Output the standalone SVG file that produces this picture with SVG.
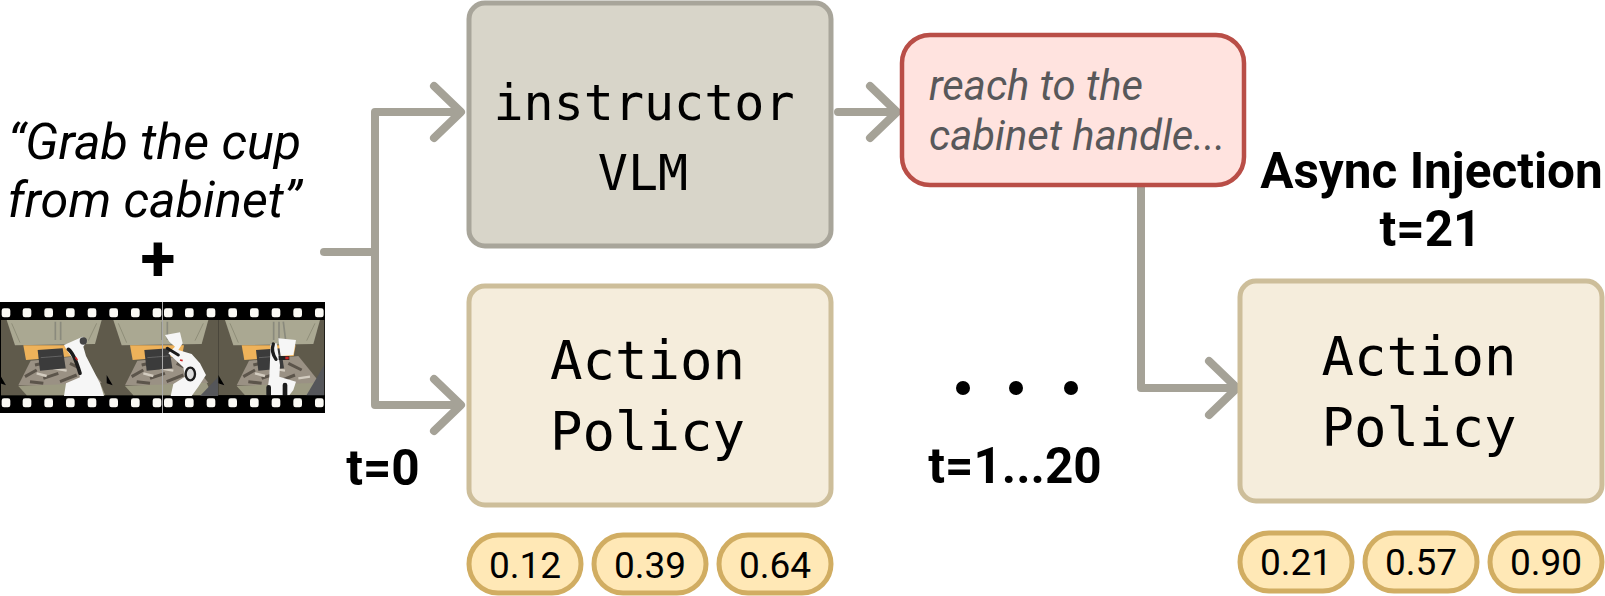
<svg xmlns="http://www.w3.org/2000/svg" width="1605" height="596" viewBox="0 0 1605 596">
<style>
.mono{font-family:"DejaVu Sans Mono","Liberation Mono",monospace;font-size:54px;fill:#000;text-anchor:middle}
.mono2{font-size:50px}
.lab{font-family:Roboto,"Liberation Sans",sans-serif;font-weight:700;font-size:49.5px;fill:#000;text-anchor:middle}
.plus{font-size:64px}
.quote{font-family:Roboto,"Liberation Sans",sans-serif;font-style:italic;font-size:50.300px;fill:#000;text-anchor:middle}
.say{font-family:Roboto,"Liberation Sans",sans-serif;font-style:italic;font-size:41.800px;fill:#58585a}
.pill{fill:#ffe8b6;stroke:#d1ad62;stroke-width:5}
.pt{font-family:Roboto,"Liberation Sans",sans-serif;font-size:37px;fill:#000;text-anchor:middle}
.con{fill:none;stroke:#a5a297;stroke-width:8;stroke-linecap:round;stroke-linejoin:round}
.hole{fill:#fbfaf5}
.bot{fill:#f6f6f6}
.blk{fill:none;stroke:#1c1c1c;stroke-linecap:round}
</style>
<defs>
<filter id="soft" x="-5%" y="-5%" width="110%" height="110%"><feGaussianBlur stdDeviation="1.500"/></filter>
<g id="holes"><rect x="5" y="0" width="26" height="27" rx="7" class="hole"/><rect x="68" y="0" width="26" height="27" rx="7" class="hole"/><rect x="133" y="0" width="26" height="27" rx="7" class="hole"/><rect x="198" y="0" width="26" height="27" rx="7" class="hole"/><rect x="263" y="0" width="26" height="27" rx="7" class="hole"/><rect x="328" y="0" width="26" height="27" rx="7" class="hole"/><rect x="393" y="0" width="26" height="27" rx="7" class="hole"/><rect x="458" y="0" width="26" height="27" rx="7" class="hole"/></g>
<g id="scene">
<rect x="-2" y="0" width="345" height="226" fill="#5f5a4c"/>
<path d="M20 0H305L285 72L45 76Z" fill="#aaa892"/>
<path d="M166 5V60M182 5V60" stroke="#8a8a7d" stroke-width="5"/>
<path d="M35 10L60 68M290 10L265 62" stroke="#8f8e78" stroke-width="3" fill="none"/>
<path d="M70 76H232L226 108L78 120Z" fill="#eeb25a"/>
<path d="M55 196L92 122L240 108L305 188L205 200Z" fill="#9a9184"/>
<path d="M75 170L110 150M130 175L175 160M210 130L250 150M90 185L130 190M180 185L230 165M105 135L135 128" stroke="#5c544b" stroke-width="9" fill="none"/>
<path d="M110 160L140 168M160 145L200 152M240 175L275 170" stroke="#d3ccc0" stroke-width="7" fill="none"/>
<path d="M113 90L188 85L197 145L120 152Z" fill="#3a3a3a"/>
<path d="M122 113L186 108" stroke="#777" stroke-width="2"/>
<path d="M55 198L300 188L316 226H80Z" fill="#9c9a82"/>
<path d="M0 165L18 196L0 190Z" fill="#000"/>
</g>
<clipPath id="f1"><rect x="3" y="120" width="315" height="228"/></clipPath>
<clipPath id="f2"><rect x="318" y="120" width="337" height="228"/></clipPath>
<clipPath id="f3"><rect x="655" y="120" width="318" height="226"/></clipPath>
</defs>

<g id="film">
<rect x="0" y="302" width="325" height="111" fill="#000"/>
<g transform="translate(0 280) scale(.33333)">
<g clip-path="url(#f1)">
<g filter="url(#soft)">
<use href="#scene" y="120"/>
<path class="bot" d="M192 195L248 170L262 182L250 200L258 228L300 310L312 348H192L198 310L240 292L228 250L200 210Z"/>
<circle cx="250" cy="183" r="11" fill="#444"/>
<path class="blk" stroke-width="11" d="M205 208Q222 220 240 280"/>
<path d="M226 232L232 240" stroke="#c22" stroke-width="5"/>
</g>
</g>
<g clip-path="url(#f2)">
<g filter="url(#soft)">
<use href="#scene" x="320" y="120"/>
<path d="M600 348L655 290V348Z" fill="#54565a"/>
<path class="bot" d="M495 165L540 157L548 190L535 210L575 222L600 250L618 285L595 320L575 348H512L520 312L555 290L550 262L505 220L525 200L508 185Z"/>
<path class="blk" stroke-width="9" d="M502 205L535 225"/>
<ellipse cx="571" cy="282" rx="14" ry="19" fill="#ddd" stroke="#1c1c1c" stroke-width="7"/>
<path d="M540 240L548 242" stroke="#c22" stroke-width="5"/>
</g>
</g>
<g clip-path="url(#f3)">
<g filter="url(#soft)">
<use href="#scene" x="655" y="120"/>
<path d="M918 348L973 255V348Z" fill="#54565a"/>
<path d="M850 125L858 190" stroke="#8a8a7d" stroke-width="5"/>
<path class="bot" d="M835 175L888 180L880 225L842 228L838 200ZM812 192L830 190L840 255L838 290L888 305L880 330L868 346H800L808 290L810 240Z"/>
<path class="blk" stroke-width="10" d="M820 192Q812 215 828 238"/>
<rect x="836" y="228" width="32" height="12" fill="#222"/>
<rect x="856" y="230" width="10" height="8" fill="#c22"/>
<path class="blk" stroke-width="14" d="M806 322V345M855 315V345"/>
</g>
</g>
</g>
<g transform="translate(0 280) scale(.33333)">
<g transform="translate(0 85)"><use href="#holes"/></g>
<g transform="translate(487 85)"><use href="#holes"/></g>
<g transform="translate(0 355)"><use href="#holes"/></g>
<g transform="translate(487 355)"><use href="#holes"/></g>
</g>
<path d="M162.500 302V413" stroke="#aaa" stroke-width="1"/>
</g>

<g id="connectors">
<path class="con" d="M324 252H375M375 112V405M375 112H460M375 405H460"/>
<path class="con" d="M434 86L461 112L434 138M434 379L461 405L434 431"/>
<path class="con" d="M838 112H897M870 86L897 112L870 138"/>
<path class="con" d="M1141 187V388H1236M1209 361L1237 388L1209 415"/>
</g>

<g id="instructor">
<rect x="469" y="3" width="362" height="243" rx="16" fill="#d8d5c9" stroke="#a8a59a" stroke-width="5"/>
<text class="mono mono2" x="644" y="120">instructor</text>
<text class="mono mono2" x="643" y="189.500">VLM</text>
</g>
<g id="policy1">
<rect x="469" y="286" width="362" height="219" rx="16" fill="#f5eddc" stroke="#cdbe9a" stroke-width="5"/>
<text class="mono" x="647.500" y="379">Action</text>
<text class="mono" x="647.500" y="450">Policy</text>
</g>
<g id="thought">
<rect x="902" y="35" width="342" height="150" rx="28" fill="#ffe3df" stroke="#b94e47" stroke-width="4.500"/>
<text class="say" x="929" y="99.500">reach to the</text>
<text class="say" x="929" y="149.500">cabinet handle...</text>
</g>
<g id="policy2">
<rect x="1240" y="281" width="362" height="220" rx="16" fill="#f5eddc" stroke="#cdbe9a" stroke-width="5"/>
<text class="mono" x="1419" y="375">Action</text>
<text class="mono" x="1419" y="446">Policy</text>
</g>
<g id="prompt">
<text class="quote" x="154.500" y="159">“Grab the cup</text>
<text class="quote" x="154.500" y="217">from cabinet”</text>
<text class="lab plus" x="158" y="281">+</text>
</g>
<text class="lab" x="383" y="484.500">t=0</text>
<text class="lab" x="1015" y="483">t=1...20</text>
<text class="lab" x="1431.500" y="188">Async Injection</text>
<text class="lab" x="1430.500" y="245.500">t=21</text>
<g id="dots" fill="#000"><circle cx="963" cy="388" r="7"/><circle cx="1016" cy="388" r="7"/><circle cx="1071" cy="388" r="7"/></g>

<g id="scores1">
<rect class="pill" x="469" y="535" width="112" height="58" rx="29"/><text class="pt" x="525" y="578">0.12</text>
<rect class="pill" x="594" y="535" width="112" height="58" rx="29"/><text class="pt" x="650" y="578">0.39</text>
<rect class="pill" x="719" y="535" width="112" height="58" rx="29"/><text class="pt" x="775" y="578">0.64</text>
</g>
<g id="scores2">
<rect class="pill" x="1240" y="533" width="112" height="58" rx="29"/><text class="pt" x="1296" y="575">0.21</text>
<rect class="pill" x="1365" y="533" width="112" height="58" rx="29"/><text class="pt" x="1421" y="575">0.57</text>
<rect class="pill" x="1490" y="533" width="112" height="58" rx="29"/><text class="pt" x="1546" y="575">0.90</text>
</g>
</svg>
